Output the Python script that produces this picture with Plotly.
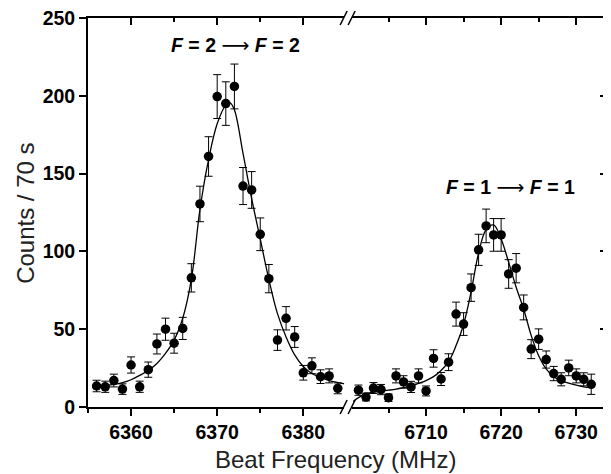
"""Beat-frequency spectrum of the F=2->F=2 and F=1->F=1 lines, broken x axis."""
import plotly.graph_objects as go

# %%
# measured points, left peak (F=2 -> F=2)
freq_left = [6356, 6357, 6358, 6359, 6360, 6361, 6362, 6363, 6364, 6365,
             6366, 6367, 6368, 6369, 6370, 6371, 6372, 6373, 6374, 6375,
             6376, 6377, 6378, 6379, 6380, 6381, 6382, 6383, 6384]
counts_left = [13.5, 13, 17, 11.5, 27, 13, 24, 40.5, 50, 41,
               50.5, 83, 130.5, 161, 199.5, 195, 206, 142, 139.5, 111,
               82.5, 43, 57, 45, 22, 26.5, 19.5, 20, 12]
err_left = [3.7, 3.6, 4.1, 3.4, 5.2, 3.6, 4.9, 6.4, 7.1, 6.4,
            7.1, 9.1, 11.4, 12.7, 14.1, 14.0, 14.4, 11.9, 11.8, 10.5,
            9.1, 6.6, 7.5, 6.7, 4.7, 5.1, 4.4, 4.5, 3.5]

# measured points, right peak (F=1 -> F=1)
freq_right = [6701, 6702, 6703, 6704, 6705, 6706, 6707, 6708, 6709, 6710,
              6711, 6712, 6713, 6714, 6715, 6716, 6717, 6718, 6719, 6720,
              6721, 6722, 6723, 6724, 6725, 6726, 6727, 6728, 6729, 6730,
              6731, 6732]
counts_right = [10.8, 6.4, 12.2, 11.2, 6.0, 20.0, 16.1, 12.9, 20.0, 10.3,
                31.2, 18.0, 28.8, 59.7, 53.3, 76.7, 101.0, 116.4, 110.6, 110.6,
                85.5, 89.2, 64.0, 37.2, 43.6, 30.5, 21.5, 17.8, 25.1, 20.0,
                17.8, 14.6]
err_right = [3.3, 2.5, 3.5, 3.3, 2.4, 4.5, 4.0, 3.6, 4.5, 3.2,
             5.6, 4.2, 5.4, 7.7, 7.3, 8.8, 10.0, 10.8, 10.5, 10.5,
             9.2, 9.4, 8.0, 6.1, 6.6, 5.5, 4.6, 4.2, 5.0, 4.5,
             4.2, 6.5]

# fitted line profiles
fit_x_left = [6355.5, 6356, 6357, 6358, 6359, 6360, 6361, 6362, 6363, 6364,
              6365, 6366, 6367, 6368, 6369, 6370, 6371, 6371.5, 6372, 6373,
              6374, 6375, 6376, 6377, 6378, 6379, 6380, 6381, 6382, 6383,
              6384, 6384.8]
fit_y_left = [12.5, 12.8, 13.6, 14.5, 15.6, 17.5, 20.3, 23.5, 28, 34.5,
              43, 57, 82, 127, 159, 182, 194, 195.5, 191, 163,
              134, 108, 82, 60, 45, 33.5, 26, 21.5, 19, 17,
              15.7, 14.8]
fit_x_right = [6700.3, 6701, 6702, 6703, 6704, 6705, 6706, 6707, 6708, 6709,
               6710, 6711, 6712, 6713, 6714, 6715, 6716, 6717, 6718, 6719,
               6720, 6721, 6722, 6723, 6724, 6725, 6726, 6727, 6728, 6729,
               6730, 6731, 6732]
fit_y_right = [3.5, 6, 8.4, 9.5, 10.2, 10.8, 11.5, 12.5, 13.5, 15.2,
               17, 19.5, 23.5, 29, 39.5, 53, 74, 99, 114, 117,
               108, 93, 77, 63, 46, 33, 24.5, 19.5, 17, 15.3,
               14, 13, 12.5]

x_title = "Beat Frequency (MHz)"
y_title = "Counts / 70 s"
NB = "\u00a0"
ARROW = "<span style='font-family:DejaVu Sans;font-weight:normal'>⟶</span>"
label_left = f"<b><i>F</i>{NB}={NB}2{NB}{ARROW}{NB}<i>F</i>{NB}={NB}2</b>"
label_right = f"<b><i>F</i>{NB}={NB}1{NB}{ARROW}{NB}<i>F</i>{NB}={NB}1</b>"

# %%
FONT = "Liberation Sans, Arial, sans-serif"
tick_font = {"family": FONT, "size": 19.5, "color": "black", "weight": "bold"}
marker_style = {"color": "black", "size": 9.5}
error_style = {"type": "data", "color": "black", "thickness": 1, "width": 4}

fig = go.Figure()
for xs, ys, errs, fx, fy, xa in [
    (freq_left, counts_left, err_left, fit_x_left, fit_y_left, "x"),
    (freq_right, counts_right, err_right, fit_x_right, fit_y_right, "x2"),
]:
    fig.add_trace(
        go.Scatter(
            x=fx, y=fy, mode="lines", xaxis=xa, yaxis="y",
            line={"color": "black", "width": 1.3, "shape": "spline"},
            hoverinfo="skip",
        )
    )
    fig.add_trace(
        go.Scatter(
            x=xs, y=ys, mode="markers", xaxis=xa, yaxis="y",
            marker=marker_style, error_y={**error_style, "array": errs},
        )
    )

# empty traces so the mirrored (top / right) axes get drawn
fig.add_trace(go.Scatter(x=[], y=[], xaxis="x3", yaxis="y"))
fig.add_trace(go.Scatter(x=[], y=[], xaxis="x4", yaxis="y"))
fig.add_trace(go.Scatter(x=[], y=[], xaxis="x2", yaxis="y2"))

DOM_L = [0, 0.4935]
DOM_R = [0.509, 1]
RANGE_L = [6355, 6384.74]
RANGE_R = [6700.16, 6734.1]

common_x = dict(
    showline=True, linecolor="black", linewidth=1.8, showgrid=False,
    zeroline=False, ticklen=7, tickwidth=1.5, tickcolor="black",
    tickfont=tick_font, automargin=False,
    minor={"dtick": 5, "ticklen": 4, "tickwidth": 1.5, "tickcolor": "black",
           "ticks": "outside", "showgrid": False},
)
minor_in = {"dtick": 5, "ticklen": 4, "tickwidth": 1.5,
            "tickcolor": "black", "ticks": "inside"}

# page body has an 8px margin, so the figure is sized/placed to compensate
fig.update_layout(
    width=603, height=466,
    margin={"l": 80, "r": 4, "t": 10, "b": 67},
    plot_bgcolor="white", paper_bgcolor="white",
    showlegend=False,
    xaxis=dict(common_x, domain=DOM_L, range=RANGE_L, anchor="y",
               ticks="outside", tickvals=[6360, 6370, 6380]),
    xaxis2=dict(common_x, domain=DOM_R, range=RANGE_R, anchor="y",
                ticks="outside", tickvals=[6710, 6720, 6730]),
    xaxis3=dict(common_x, domain=DOM_L, range=RANGE_L, anchor="y", side="top",
                overlaying="x", ticks="inside", tickvals=[6360, 6370, 6380],
                showticklabels=False, minor=minor_in),
    xaxis4=dict(common_x, domain=DOM_R, range=RANGE_R, anchor="y", side="top",
                overlaying="x2", ticks="inside", tickvals=[6710, 6720, 6730],
                showticklabels=False, minor=minor_in),
    yaxis=dict(range=[0, 250], dtick=50, ticks="outside", ticklen=7,
               tickwidth=1.5, tickcolor="black", showline=True,
               linecolor="black", linewidth=1.8, showgrid=False,
               zeroline=False, anchor="x", tickfont=tick_font,
               ticklabeloverflow="allow", automargin=False),
    yaxis2=dict(range=[0, 250], dtick=50, ticks="inside", ticklen=7,
                tickwidth=1.5, tickcolor="black", showline=True,
                linecolor="black", linewidth=1.8, showgrid=False,
                zeroline=False, overlaying="y", side="right", anchor="x2",
                showticklabels=False, automargin=False),
)

# peak labels
label_font = {"family": FONT, "size": 19.5, "color": "black"}
fig.add_annotation(x=6372.1, y=232.5, xref="x", yref="y", text=label_left,
                   showarrow=False, font=label_font)
fig.add_annotation(x=6721.2, y=141, xref="x2", yref="y", text=label_right,
                   showarrow=False, font=label_font)

# axis titles as annotations (x axis is split in two)
fig.add_annotation(x=0.476, y=-0.135, xref="paper", yref="paper", text=x_title,
                   showarrow=False, yanchor="middle",
                   font={"family": FONT, "size": 24, "color": "#222"})
fig.add_annotation(x=-0.121, y=0.497, xref="paper", yref="paper", text=y_title,
                   showarrow=False, textangle=-90, xanchor="center",
                   font={"family": FONT, "size": 24, "color": "#222"})

# axis break marks "//" at top and bottom
brk = 0.5012
for ypos in (0, 1):
    for dx in (-7, 1):
        fig.add_shape(type="line", xref="paper", yref="paper",
                      xsizemode="pixel", ysizemode="pixel",
                      xanchor=brk, yanchor=ypos,
                      x0=dx - 1, y0=-7, x1=dx + 6, y1=7,
                      line={"color": "black", "width": 1.5})

fig.write_html("out.html")
